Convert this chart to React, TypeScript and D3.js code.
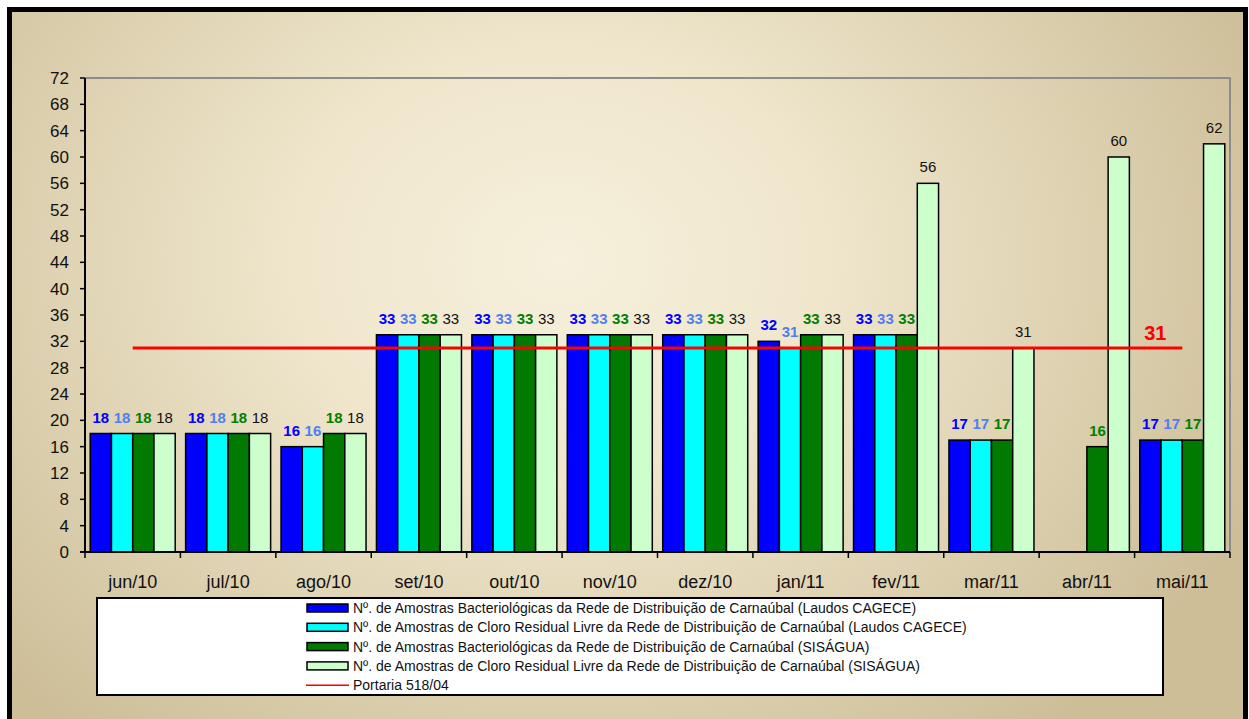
import { useRef, useEffect } from 'react';
import * as d3 from 'd3';

const months = ['jun/10', 'jul/10', 'ago/10', 'set/10', 'out/10', 'nov/10', 'dez/10', 'jan/11', 'fev/11', 'mar/11', 'abr/11', 'mai/11'];

const bactCagece: (number | null)[] = [18, 18, 16, 33, 33, 33, 33, 32, 33, 17, null, 17];
const cloroCagece: (number | null)[] = [18, 18, 16, 33, 33, 33, 33, 31, 33, 17, null, 17];
const bactSisagua: (number | null)[] = [18, 18, 18, 33, 33, 33, 33, 33, 33, 17, 16, 17];
const cloroSisagua: (number | null)[] = [18, 18, 18, 33, 33, 33, 33, 33, 56, 31, 60, 62];

const portaria = 31;
const yTicks = d3.range(0, 73, 4);

const seriesNames = [
  'Nº. de Amostras Bacteriológicas da Rede de Distribuição de Carnaúbal (Laudos CAGECE)',
  'Nº. de Amostras de Cloro Residual Livre da Rede de Distribuição de Carnaúbal (Laudos CAGECE)',
  'Nº. de Amostras Bacteriológicas da Rede de Distribuição de Carnaúbal (SISÁGUA)',
  'Nº. de Amostras de Cloro Residual Livre da Rede de Distribuição de Carnaúbal (SISÁGUA)',
];
const portariaName = 'Portaria 518/04';

const barColors = ['#0000ff', '#00ffff', '#007a00', '#ccffcc'];
const labelColors = ['#0000ff', '#4f7ff0', '#008000', '#111111'];
const labelBold = [true, true, true, false];

const FONT = '"Liberation Sans", Arial, sans-serif';

export default function App() {
  const svgRef = useRef<SVGSVGElement>(null);
  const width = 1249;
  const height = 719;
  const plot = { left: 85, right: 1230, top: 78, bottom: 552 };

  useEffect(() => {
    if (!svgRef.current) return;
    const svg = d3.select(svgRef.current);
    svg.selectAll('*').remove();

    const series = [bactCagece, cloroCagece, bactSisagua, cloroSisagua];

    // Background
    const defs = svg.append('defs');
    const grad = defs
      .append('radialGradient')
      .attr('id', 'bg')
      .attr('gradientUnits', 'userSpaceOnUse')
      .attr('cx', 560)
      .attr('cy', 260)
      .attr('r', 760)
      .attr('gradientTransform', 'translate(560,260) scale(1,0.8) translate(-560,-260)');
    grad.append('stop').attr('offset', '0%').attr('stop-color', '#f6f0dc');
    grad.append('stop').attr('offset', '35%').attr('stop-color', '#efe6cc');
    grad.append('stop').attr('offset', '100%').attr('stop-color', '#cdbe98');

    svg.append('rect').attr('width', width).attr('height', height).attr('fill', '#ffffff');
    svg
      .append('rect')
      .attr('x', 9.5)
      .attr('y', 9.5)
      .attr('width', 1236)
      .attr('height', 730)
      .attr('fill', 'url(#bg)')
      .attr('stroke', '#000')
      .attr('stroke-width', 5);

    const x0 = d3.scaleBand<string>().domain(months).range([plot.left, plot.right]).padding(0);
    const x1 = d3
      .scaleBand<number>()
      .domain([0, 1, 2, 3])
      .range([0, x0.bandwidth()])
      .paddingInner(0)
      .paddingOuter(0.245);
    const y = d3.scaleLinear().domain([0, 72]).range([plot.bottom, plot.top]);

    // Plot frame (gray top/right)
    svg
      .append('path')
      .attr('d', `M${plot.left},${plot.top}H${plot.right}V${plot.bottom}`)
      .attr('fill', 'none')
      .attr('stroke', '#8c8c8c')
      .attr('stroke-width', 2);

    // Bars
    const g = svg.append('g');
    series.forEach((vals, si) => {
      vals.forEach((v, mi) => {
        if (v === null) return;
        const bx = (x0(months[mi]) ?? 0) + (x1(si) ?? 0);
        g.append('rect')
          .attr('x', bx)
          .attr('y', y(v))
          .attr('width', x1.bandwidth())
          .attr('height', y(0) - y(v))
          .attr('fill', barColors[si])
          .attr('stroke', '#000')
          .attr('stroke-width', 1.5);
      });
    });

    // Value labels
    series.forEach((vals, si) => {
      vals.forEach((v, mi) => {
        if (v === null) return;
        const bx = (x0(months[mi]) ?? 0) + (x1(si) ?? 0) + x1.bandwidth() / 2;
        g.append('text')
          .attr('x', bx)
          .attr('y', y(v) - 11)
          .attr('text-anchor', 'middle')
          .attr('font-family', FONT)
          .attr('font-size', '15px')
          .attr('font-weight', labelBold[si] ? 'bold' : 'normal')
          .attr('fill', labelColors[si])
          .text(v);
      });
    });

    // Portaria line
    const lx1 = (x0(months[0]) ?? 0) + x0.bandwidth() / 2;
    const lx2 = (x0(months[months.length - 1]) ?? 0) + x0.bandwidth() / 2;
    svg
      .append('line')
      .attr('x1', lx1)
      .attr('x2', lx2)
      .attr('y1', y(portaria))
      .attr('y2', y(portaria))
      .attr('stroke', '#ff0000')
      .attr('stroke-width', 3);
    svg
      .append('text')
      .attr('x', lx2 - 27)
      .attr('y', y(portaria) - 8)
      .attr('text-anchor', 'middle')
      .attr('font-family', FONT)
      .attr('font-size', '20px')
      .attr('font-weight', 'bold')
      .attr('fill', '#ff0000')
      .text(portaria);

    // Y axis
    svg
      .append('line')
      .attr('x1', plot.left)
      .attr('x2', plot.left)
      .attr('y1', plot.top)
      .attr('y2', plot.bottom)
      .attr('stroke', '#000')
      .attr('stroke-width', 2);
    yTicks.forEach((t) => {
      svg
        .append('line')
        .attr('x1', plot.left - 5)
        .attr('x2', plot.left)
        .attr('y1', y(t))
        .attr('y2', y(t))
        .attr('stroke', '#000')
        .attr('stroke-width', 1.5);
      svg
        .append('text')
        .attr('x', plot.left - 16)
        .attr('y', y(t))
        .attr('dy', '0.36em')
        .attr('text-anchor', 'end')
        .attr('font-family', FONT)
        .attr('font-size', '17px')
        .attr('fill', '#111')
        .text(t);
    });

    // X axis
    svg
      .append('line')
      .attr('x1', plot.left - 5)
      .attr('x2', plot.right)
      .attr('y1', plot.bottom)
      .attr('y2', plot.bottom)
      .attr('stroke', '#000')
      .attr('stroke-width', 2);
    [...months.map((m) => x0(m) ?? 0), plot.right].forEach((tx) => {
      svg
        .append('line')
        .attr('x1', tx)
        .attr('x2', tx)
        .attr('y1', plot.bottom)
        .attr('y2', plot.bottom + 6)
        .attr('stroke', '#000')
        .attr('stroke-width', 1.5);
    });
    months.forEach((m) => {
      svg
        .append('text')
        .attr('x', (x0(m) ?? 0) + x0.bandwidth() / 2)
        .attr('y', 588)
        .attr('text-anchor', 'middle')
        .attr('font-family', FONT)
        .attr('font-size', '18px')
        .attr('fill', '#111')
        .text(m);
    });

    // Legend
    const lg = svg.append('g');
    lg.append('rect')
      .attr('x', 97)
      .attr('y', 598)
      .attr('width', 1066)
      .attr('height', 97)
      .attr('fill', '#fff')
      .attr('stroke', '#000')
      .attr('stroke-width', 2);
    const rowY = (i: number) => 608 + i * 19.3;
    seriesNames.forEach((name, i) => {
      lg.append('rect')
        .attr('x', 307)
        .attr('y', rowY(i) - 4)
        .attr('width', 41)
        .attr('height', 8)
        .attr('fill', barColors[i])
        .attr('stroke', '#000')
        .attr('stroke-width', 1.5);
      lg.append('text')
        .attr('x', 353)
        .attr('y', rowY(i))
        .attr('dy', '0.36em')
        .attr('font-family', FONT)
        .attr('font-size', '14px')
        .attr('fill', '#111')
        .text(name);
    });
    lg.append('line')
      .attr('x1', 306)
      .attr('x2', 349)
      .attr('y1', rowY(4))
      .attr('y2', rowY(4))
      .attr('stroke', '#ff0000')
      .attr('stroke-width', 1.5);
    lg.append('text')
      .attr('x', 353)
      .attr('y', rowY(4))
      .attr('dy', '0.36em')
      .attr('font-family', FONT)
      .attr('font-size', '14px')
      .attr('fill', '#111')
      .text(portariaName);
  }, []);

  return (
    <svg
      ref={svgRef}
      width={width}
      height={height}
      style={{ position: 'absolute', left: 0, top: 0, display: 'block' }}
    />
  );
}
